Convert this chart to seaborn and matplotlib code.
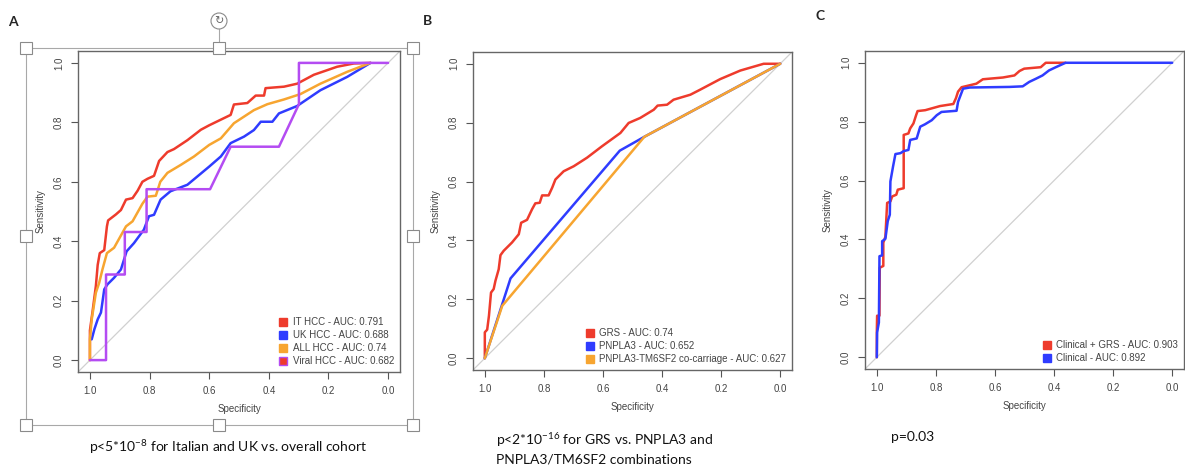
import matplotlib
matplotlib.use("Agg")
import matplotlib.pyplot as plt
import matplotlib.patches as mpatches
from matplotlib.lines import Line2D
import pandas as pd
import seaborn as sns

# ---- Panel A: HCC cohorts (specificity, sensitivity) ----
it_spec = [1.0, 1.0, 0.991, 0.980, 0.974, 0.967, 0.952, 0.943, 0.939, 0.913, 0.896, 0.879, 0.857, 0.840, 0.824,
           0.807, 0.785, 0.768, 0.740, 0.718, 0.673, 0.628, 0.600, 0.528, 0.517, 0.472, 0.444, 0.416, 0.411, 0.349,
           0.305, 0.249, 0.171, 0.115, 0.059]
it_sens = [0.0, 0.10, 0.165, 0.25, 0.32, 0.36, 0.37, 0.45, 0.47, 0.49, 0.505, 0.54, 0.545, 0.57, 0.60,
           0.61, 0.62, 0.67, 0.70, 0.71, 0.74, 0.775, 0.79, 0.825, 0.86, 0.865, 0.89, 0.89, 0.915, 0.92,
           0.93, 0.96, 0.987, 0.998, 1.0]
uk_spec = [0.997, 0.994, 0.985, 0.974, 0.963, 0.952, 0.941, 0.919, 0.896, 0.877, 0.852, 0.819, 0.802, 0.785, 0.763,
           0.730, 0.673, 0.600, 0.561, 0.528, 0.483, 0.450, 0.427, 0.388, 0.366, 0.305, 0.227, 0.137, 0.059]
uk_sens = [0.07, 0.07, 0.104, 0.137, 0.16, 0.238, 0.255, 0.277, 0.305, 0.366, 0.394, 0.439, 0.484, 0.489, 0.54,
           0.568, 0.59, 0.651, 0.685, 0.73, 0.752, 0.774, 0.802, 0.802, 0.83, 0.855, 0.908, 0.953, 1.0]
all_spec = [1.0, 1.0, 0.994, 0.980, 0.969, 0.958, 0.943, 0.919, 0.879, 0.857, 0.824, 0.807, 0.779, 0.764,
            0.740, 0.695, 0.651, 0.600, 0.561, 0.517, 0.450, 0.405, 0.349, 0.294, 0.227, 0.137, 0.059]
all_sens = [0.0, 0.07, 0.137, 0.227, 0.26, 0.305, 0.36, 0.378, 0.45, 0.467, 0.526, 0.55, 0.553, 0.60,
            0.63, 0.657, 0.685, 0.724, 0.746, 0.797, 0.841, 0.861, 0.877, 0.895, 0.93, 0.97, 1.0]
viral_spec = [1.0, 0.946, 0.946, 0.883, 0.883, 0.810, 0.810, 0.597, 0.528, 0.366, 0.299, 0.299, 0.0]
viral_sens = [0.0, 0.0, 0.288, 0.288, 0.431, 0.431, 0.575, 0.575, 0.718, 0.718, 0.861, 1.0, 1.0]

# ---- Panel B: GRS vs PNPLA3 ----
grs_spec = [1.0, 1.0, 0.992, 0.986, 0.979, 0.970, 0.964, 0.953, 0.947, 0.936, 0.908, 0.885, 0.877, 0.857, 0.840,
            0.829, 0.814, 0.806, 0.784, 0.772, 0.761, 0.733, 0.699, 0.654, 0.603, 0.541, 0.513, 0.474, 0.428, 0.415,
            0.383, 0.361, 0.304, 0.271, 0.203, 0.135, 0.056, 0.0]
grs_sens = [0.0, 0.088, 0.097, 0.144, 0.223, 0.235, 0.263, 0.302, 0.35, 0.365, 0.393, 0.421, 0.46, 0.47, 0.506,
            0.526, 0.528, 0.553, 0.553, 0.579, 0.607, 0.635, 0.652, 0.681, 0.72, 0.765, 0.799, 0.816, 0.844, 0.858,
            0.861, 0.878, 0.895, 0.912, 0.948, 0.977, 1.0, 1.0]
pnpla3_spec = [1.0, 0.913, 0.543, 0.460, 0.0]
pnpla3_sens = [0.0, 0.271, 0.705, 0.752, 1.0]
cocar_spec = [1.0, 0.941, 0.460, 0.0]
cocar_sens = [0.0, 0.178, 0.752, 1.0]

# ---- Panel C: clinical model +/- GRS ----
clingrs_spec = [1.0, 1.0, 0.999, 0.991, 0.990, 0.978, 0.978, 0.971, 0.965, 0.954, 0.948, 0.934, 0.929, 0.909, 0.909,
                0.893, 0.887, 0.876, 0.867, 0.862, 0.836, 0.786, 0.741, 0.732, 0.725, 0.713, 0.663, 0.641, 0.573,
                0.534, 0.517, 0.501, 0.445, 0.428, 0.361]
clingrs_sens = [0.0, 0.084, 0.141, 0.141, 0.304, 0.31, 0.389, 0.409, 0.524, 0.529, 0.546, 0.552, 0.569, 0.574, 0.755,
                0.76, 0.777, 0.794, 0.822, 0.836, 0.839, 0.853, 0.86, 0.88, 0.902, 0.917, 0.929, 0.944, 0.95,
                0.957, 0.972, 0.98, 0.985, 1.0, 1.0]
clin_spec = [1.0, 0.999, 0.993, 0.991, 0.982, 0.982, 0.971, 0.963, 0.956, 0.954, 0.945, 0.937, 0.920, 0.909, 0.893,
             0.887, 0.865, 0.853, 0.837, 0.814, 0.797, 0.781, 0.730, 0.725, 0.708, 0.685, 0.551, 0.506, 0.484,
             0.461, 0.439, 0.417, 0.394, 0.361, 0.0]
clin_sens = [0.0, 0.084, 0.118, 0.343, 0.346, 0.394, 0.402, 0.462, 0.484, 0.597, 0.648, 0.69, 0.693, 0.70, 0.704,
             0.738, 0.743, 0.783, 0.791, 0.805, 0.822, 0.833, 0.837, 0.867, 0.912, 0.916, 0.918, 0.92, 0.935,
             0.946, 0.957, 0.974, 0.985, 1.0, 1.0]

labels_a = ["IT HCC - AUC: 0.791", "UK HCC - AUC: 0.688", "ALL HCC - AUC: 0.74", "Viral HCC - AUC: 0.682"]
labels_b = ["GRS - AUC: 0.74", "PNPLA3 - AUC: 0.652", "PNPLA3-TM6SF2 co-carriage - AUC: 0.627"]
labels_c = ["Clinical + GRS - AUC: 0.903", "Clinical - AUC: 0.892"]
ticks = [1.0, 0.8, 0.6, 0.4, 0.2, 0.0]

RED, BLUE, ORANGE, PURPLE = "#ee3b2c", "#2f3cff", "#f7a530", "#b44cf2"

sns.set_style("ticks")
plt.rcParams["font.family"] = ["Liberation Sans", "DejaVu Sans"]
plt.rcParams["mathtext.default"] = "regular"

W, H = 1185, 466
fig = plt.figure(figsize=(W / 100, H / 100), dpi=100)


def fx(px):
    return px / W


def fy(py):
    return 1 - py / H


def roc_panel(box, curves, labels, colors, faces=None):
    # box = (left, top, right, bottom) in pixels
    l, t, r, b = box
    ax = fig.add_axes([fx(l), fy(b), fx(r) - fx(l), fy(t) - fy(b)])
    ax.plot([1.04, -0.04], [-0.04, 1.04], color="#d0d0d0", lw=0.9, zorder=1)
    rows = []
    for (sp, se), lab in zip(curves, labels):
        rows.append(pd.DataFrame({"spec": sp, "sens": se, "model": lab}))
    df = pd.concat(rows, ignore_index=True)
    sns.lineplot(data=df, x="spec", y="sens", hue="model", palette=dict(zip(labels, colors)),
                 sort=False, estimator=None, lw=1.8, legend=False, ax=ax, zorder=3)
    ax.set_xlim(1.04, -0.04)
    ax.set_ylim(-0.04, 1.04)
    ax.set_xticks(ticks)
    ax.set_xticklabels([f"{v:.1f}" for v in ticks])
    ax.set_yticks(ticks[::-1])
    ax.set_yticklabels([f"{v:.1f}" for v in ticks[::-1]], rotation=90, va="center")
    ax.tick_params(direction="out", length=5, width=0.8, color="#555555", labelsize=7,
                   labelcolor="#444444", pad=5)
    for s in ax.spines.values():
        s.set_visible(True)
        s.set_color("#666666")
        s.set_linewidth(1.0)
    ax.set_xlabel("Specificity", fontsize=7, color="#444444", labelpad=6)
    ax.set_ylabel("Sensitivity", fontsize=7, color="#444444", labelpad=6)
    if faces is None:
        faces = colors
    handles = [Line2D([], [], marker="s", ls="", markersize=6, markerfacecolor=f, markeredgecolor=e)
               for f, e in zip(faces, colors)]
    ax.legend(handles, labels, loc="lower right", frameon=False, fontsize=7, labelcolor="#444444",
              handlelength=0.8, handletextpad=0.6, labelspacing=0.3, borderaxespad=0.2)
    return ax


# the Viral HCC legend key is red with a purple border in the original
roc_panel((78, 51, 400, 372),
          [(it_spec, it_sens), (uk_spec, uk_sens), (all_spec, all_sens), (viral_spec, viral_sens)],
          labels_a, [RED, BLUE, ORANGE, PURPLE], faces=[RED, BLUE, ORANGE, RED])
roc_panel((473, 52, 792, 370),
          [(grs_spec, grs_sens), (pnpla3_spec, pnpla3_sens), (cocar_spec, cocar_sens)],
          labels_b, [RED, BLUE, ORANGE])
roc_panel((865, 51, 1184, 369),
          [(clingrs_spec, clingrs_sens), (clin_spec, clin_sens)],
          labels_c, [RED, BLUE])

# panel letters
for x, y, s in [(13, 22, "A"), (428, 21, "B"), (820, 16, "C")]:
    fig.text(fx(x), fy(y), s, fontsize=10, fontweight="bold", ha="center", va="center", family="Lato")

# captions
cap = dict(fontsize=10, family="Lato", color="#111111", va="center")
fig.text(fx(228), fy(447), "p<5*10$^{-8}$ for Italian and UK vs. overall cohort", ha="center", **cap)
fig.text(fx(496), fy(440), "p<2*10$^{-16}$ for GRS vs. PNPLA3 and", ha="left", **cap)
fig.text(fx(496), fy(459), "PNPLA3/TM6SF2 combinations", ha="left", **cap)
fig.text(fx(891), fy(437), "p=0.03", ha="left", **cap)

# selection frame around panel A (as in the screenshot)
fig.add_artist(mpatches.Rectangle((fx(26), fy(425)), fx(413) - fx(26), fy(48) - fy(425), fill=False,
                                  ec="#a8a8a8", lw=0.8, transform=fig.transFigure))
fig.add_artist(Line2D([fx(219), fx(219)], [fy(29), fy(42)], color="#a8a8a8", lw=0.8, transform=fig.transFigure))
for hx, hy in [(26, 48), (219, 48), (413, 48), (26, 236), (413, 236), (26, 425), (219, 425), (413, 425)]:
    fig.add_artist(mpatches.Rectangle((fx(hx - 6), fy(hy + 6)), 12 / W, 12 / H, fc="white", ec="#8a8a8a",
                                      lw=0.8, transform=fig.transFigure, zorder=5))
fig.add_artist(mpatches.Ellipse((fx(219), fy(21)), 16 / W, 16 / H, fc="white", ec="#8a8a8a", lw=0.8,
                                transform=fig.transFigure, zorder=5))
fig.text(fx(219), fy(21), "\u21bb", fontsize=8, color="#666666", ha="center", va="center",
         family="DejaVu Sans", zorder=6)

fig.savefig("out.png", dpi=100)
